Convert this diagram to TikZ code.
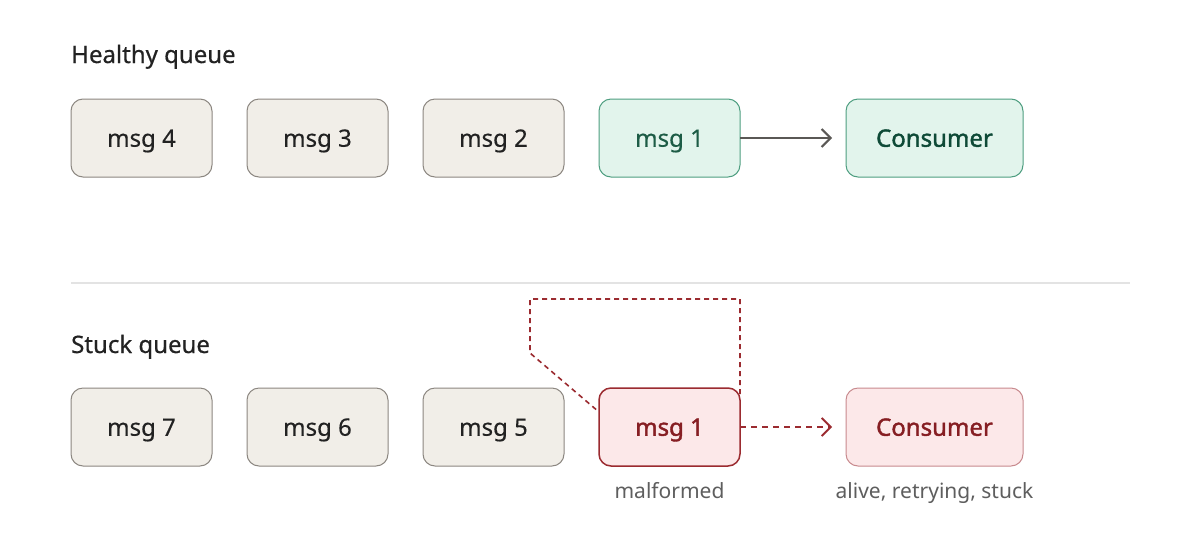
\documentclass[tikz,border=0pt]{standalone}
\usepackage{fontspec}
\setmainfont{Noto Sans}
\newfontfamily\semibf{Noto Sans}[FakeBold=1.6]
\newfontfamily\medium{Noto Sans}[FakeBold=0.6]
\newfontfamily\boxfont{Noto Sans}[FakeBold=0.3]
\usetikzlibrary{positioning,arrows.meta}
\definecolor{msgfill}{HTML}{F1EEE8}
\definecolor{msgdraw}{HTML}{8C8781}
\definecolor{okfill}{HTML}{E2F4EC}
\definecolor{okdraw}{HTML}{4E9E80}
\definecolor{oktext}{HTML}{1D5C46}
\definecolor{okbold}{HTML}{0E4A37}
\definecolor{badfill}{HTML}{FCE8E9}
\definecolor{baddraw}{HTML}{9B2B30}
\definecolor{badsoft}{HTML}{C88A8E}
\definecolor{badtext}{HTML}{861E23}
\definecolor{headtext}{HTML}{222222}
\definecolor{notetext}{HTML}{5E5E5E}
\definecolor{rule}{HTML}{E3E3E3}
\definecolor{arrowgray}{HTML}{5A5855}
\tikzset{
  msgbox/.style={rectangle,rounded corners=12pt,draw=msgdraw,line width=1pt,fill=msgfill,outer sep=0pt,minimum width=141pt,minimum height=78pt,text height=17.5pt,text depth=0pt,text=headtext,font=\fontsize{24}{28}\boxfont},
  okbox/.style={msgbox,draw=okdraw,fill=okfill,text=oktext},
  badbox/.style={msgbox,draw=baddraw,fill=badfill,text=badtext,line width=1.5pt,font=\fontsize{24}{28}\semibf},
  consbox/.style={msgbox,minimum width=177pt,font=\fontsize{24}{28}\semibf},
  heading/.style={anchor=base west,inner sep=0pt,text=headtext,font=\fontsize{24}{28}\medium},
  note/.style={anchor=base,inner sep=0pt,text=notetext,font=\fontsize{21}{25}\selectfont},
  edge/.style={-{Straight Barb[length=9pt,width=18pt,line width=2pt]},line width=2pt,draw=arrowgray},
  badedge/.style={-{Straight Barb[length=9pt,width=18pt,line width=1.8pt]},line width=1.8pt,draw=baddraw,dash pattern=on 6pt off 5pt},
  loopedge/.style={line width=1.6pt,draw=baddraw,dash pattern=on 5pt off 4pt}
}
\begin{document}
\begin{tikzpicture}[x=1pt,y=-1pt]
  \useasboundingbox[fill=white] (0,0) rectangle (1200,547);
  % healthy row
  \node[heading] (hhead) at (71,63) {Healthy queue};
  \node[msgbox] (m4) at (141.5,138) {msg 4};
  \node[msgbox,right=35pt of m4] (m3) {msg 3};
  \node[msgbox,right=35pt of m3] (m2) {msg 2};
  \node[okbox,right=35pt of m2] (hm1) {msg 1};
  \node[consbox,draw=okdraw,fill=okfill,text=okbold,right=106pt of hm1] (hcons) {Consumer};
  \coordinate (htip) at (832,138);
  \draw[edge] (hm1) -- (htip);
  % separator
  \coordinate (sepl) at (71,283);
  \coordinate (sepr) at (1130,283);
  \draw[rule,line width=1.5pt] (sepl) -- (sepr);
  % stuck row
  \node[heading] (shead) at (71,353) {Stuck queue};
  \node[msgbox] (m7) at (141.5,427) {msg 7};
  \node[msgbox,right=35pt of m7] (m6) {msg 6};
  \node[msgbox,right=35pt of m6] (m5) {msg 5};
  \node[badbox,right=35pt of m5] (sm1) {msg 1};
  \node[consbox,draw=badsoft,fill=badfill,text=badtext,right=106pt of sm1] (scons) {Consumer};
  \coordinate (stip) at (832,427);
  \draw[badedge] (sm1) -- (stip);
  \coordinate (loopb) at (530,299);
  \coordinate (loopc) at (530,353);
  \draw[loopedge] ([yshift=-6pt]sm1.north east) -- (sm1.east |- loopb) -- (loopb) -- (loopc) -- ([yshift=15pt]sm1.west);
  \node[note] (lbl1) at ([yshift=-32pt]sm1.south) {malformed};
  \node[note] (lbl2) at ([yshift=-32pt]scons.south) {alive, retrying, stuck};
\end{tikzpicture}
\end{document}
